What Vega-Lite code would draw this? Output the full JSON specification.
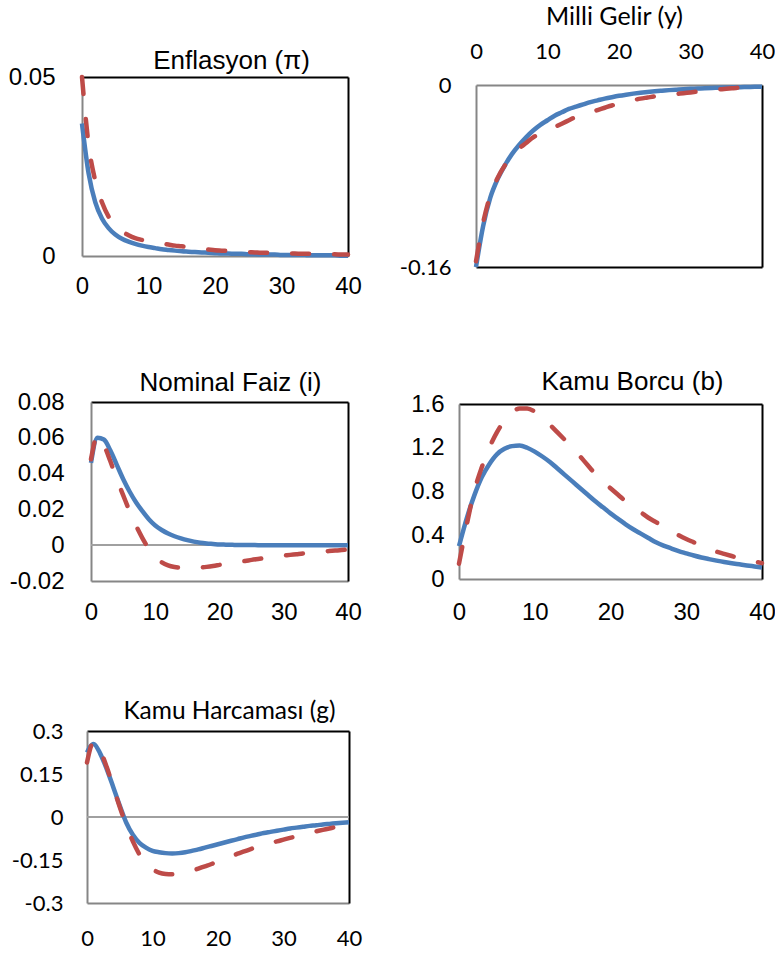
{
  "$schema": "https://vega.github.io/schema/vega-lite/v6.json",
  "padding": 0,
  "background": "white",
  "config": {
    "view": {"stroke": null},
    "axis": {"ticks": false, "tickSize": 0, "grid": false, "domainColor": "#868686", "domainWidth": 2, "labelColor": "#000000", "labelOverlap": false, "titleFontWeight": "normal", "titleColor": "#000000", "titleBaseline": "alphabetic", "titleAlign": "center"}
  },
  "datasets": {
    "irf": [
      {"p":"pi","t":0,"a":0.037,"b":0.050},{"p":"pi","t":1,"a":0.023,"b":0.031},{"p":"pi","t":2,"a":0.0150,"b":0.021},{"p":"pi","t":3,"a":0.0105,"b":0.015},{"p":"pi","t":4,"a":0.0078,"b":0.011},{"p":"pi","t":5,"a":0.0060,"b":0.0085},{"p":"pi","t":6,"a":0.0048,"b":0.0069},{"p":"pi","t":7,"a":0.0040,"b":0.0058},{"p":"pi","t":8,"a":0.0034,"b":0.0050},{"p":"pi","t":9,"a":0.0029,"b":0.0045},{"p":"pi","t":10,"a":0.0025,"b":0.0041},{"p":"pi","t":11,"a":0.0022,"b":0.0038},{"p":"pi","t":12,"a":0.0019,"b":0.0035},{"p":"pi","t":13,"a":0.0017,"b":0.0032},{"p":"pi","t":14,"a":0.0015,"b":0.0029},{"p":"pi","t":15,"a":0.0013,"b":0.0027},{"p":"pi","t":16,"a":0.0012,"b":0.0024},{"p":"pi","t":17,"a":0.0011,"b":0.0022},{"p":"pi","t":18,"a":0.0010,"b":0.0020},{"p":"pi","t":19,"a":0.0009,"b":0.0018},{"p":"pi","t":20,"a":0.0008,"b":0.0016},{"p":"pi","t":21,"a":0.0007,"b":0.0015},{"p":"pi","t":22,"a":0.0007,"b":0.0014},{"p":"pi","t":23,"a":0.0006,"b":0.0013},{"p":"pi","t":24,"a":0.0006,"b":0.0012},{"p":"pi","t":25,"a":0.0005,"b":0.0011},{"p":"pi","t":26,"a":0.0005,"b":0.0010},{"p":"pi","t":27,"a":0.0004,"b":0.0009},{"p":"pi","t":28,"a":0.0004,"b":0.0009},{"p":"pi","t":29,"a":0.0004,"b":0.0008},{"p":"pi","t":30,"a":0.0003,"b":0.0008},{"p":"pi","t":31,"a":0.0003,"b":0.0007},{"p":"pi","t":32,"a":0.0003,"b":0.0007},{"p":"pi","t":33,"a":0.0003,"b":0.0006},{"p":"pi","t":34,"a":0.0002,"b":0.0006},{"p":"pi","t":35,"a":0.0002,"b":0.0006},{"p":"pi","t":36,"a":0.0002,"b":0.0005},{"p":"pi","t":37,"a":0.0002,"b":0.0005},{"p":"pi","t":38,"a":0.0002,"b":0.0005},{"p":"pi","t":39,"a":0.0001,"b":0.0004},{"p":"pi","t":40,"a":0.0001,"b":0.0004},
      {"p":"y","t":0,"a":-0.160,"b":-0.155},{"p":"y","t":1,"a":-0.124,"b":-0.121},{"p":"y","t":2,"a":-0.099,"b":-0.097},{"p":"y","t":3,"a":-0.083,"b":-0.082},{"p":"y","t":4,"a":-0.071,"b":-0.071},{"p":"y","t":5,"a":-0.061,"b":-0.063},{"p":"y","t":6,"a":-0.053,"b":-0.056},{"p":"y","t":7,"a":-0.046,"b":-0.051},{"p":"y","t":8,"a":-0.040,"b":-0.046},{"p":"y","t":9,"a":-0.035,"b":-0.043},{"p":"y","t":10,"a":-0.031,"b":-0.040},{"p":"y","t":11,"a":-0.027,"b":-0.037},{"p":"y","t":12,"a":-0.024,"b":-0.034},{"p":"y","t":13,"a":-0.021,"b":-0.031},{"p":"y","t":14,"a":-0.019,"b":-0.028},{"p":"y","t":15,"a":-0.017,"b":-0.026},{"p":"y","t":16,"a":-0.015,"b":-0.024},{"p":"y","t":17,"a":-0.0135,"b":-0.022},{"p":"y","t":18,"a":-0.012,"b":-0.020},{"p":"y","t":19,"a":-0.0107,"b":-0.018},{"p":"y","t":20,"a":-0.0095,"b":-0.0162},{"p":"y","t":21,"a":-0.0085,"b":-0.0147},{"p":"y","t":22,"a":-0.0076,"b":-0.0133},{"p":"y","t":23,"a":-0.0068,"b":-0.012},{"p":"y","t":24,"a":-0.0061,"b":-0.011},{"p":"y","t":25,"a":-0.0055,"b":-0.010},{"p":"y","t":26,"a":-0.005,"b":-0.0093},{"p":"y","t":27,"a":-0.0045,"b":-0.0086},{"p":"y","t":28,"a":-0.0041,"b":-0.0079},{"p":"y","t":29,"a":-0.0037,"b":-0.0072},{"p":"y","t":30,"a":-0.0034,"b":-0.0065},{"p":"y","t":31,"a":-0.0031,"b":-0.0058},{"p":"y","t":32,"a":-0.0028,"b":-0.0051},{"p":"y","t":33,"a":-0.0026,"b":-0.0045},{"p":"y","t":34,"a":-0.0024,"b":-0.0039},{"p":"y","t":35,"a":-0.0022,"b":-0.0033},{"p":"y","t":36,"a":-0.002,"b":-0.0028},{"p":"y","t":37,"a":-0.0019,"b":-0.0023},{"p":"y","t":38,"a":-0.0017,"b":-0.0019},{"p":"y","t":39,"a":-0.0016,"b":-0.0016},{"p":"y","t":40,"a":-0.0015,"b":-0.0013},
      {"p":"i","t":0,"a":0.046,"b":0.048},{"p":"i","t":1,"a":0.060,"b":0.061},{"p":"i","t":2,"a":0.059,"b":0.056},{"p":"i","t":3,"a":0.053,"b":0.047},{"p":"i","t":4,"a":0.045,"b":0.037},{"p":"i","t":5,"a":0.037,"b":0.028},{"p":"i","t":6,"a":0.030,"b":0.019},{"p":"i","t":7,"a":0.024,"b":0.011},{"p":"i","t":8,"a":0.019,"b":0.004},{"p":"i","t":9,"a":0.0145,"b":-0.002},{"p":"i","t":10,"a":0.011,"b":-0.0065},{"p":"i","t":11,"a":0.0085,"b":-0.0095},{"p":"i","t":12,"a":0.0065,"b":-0.0113},{"p":"i","t":13,"a":0.005,"b":-0.0122},{"p":"i","t":14,"a":0.0038,"b":-0.0126},{"p":"i","t":15,"a":0.0028,"b":-0.0127},{"p":"i","t":16,"a":0.002,"b":-0.0127},{"p":"i","t":17,"a":0.0014,"b":-0.0125},{"p":"i","t":18,"a":0.001,"b":-0.0121},{"p":"i","t":19,"a":0.0007,"b":-0.0116},{"p":"i","t":20,"a":0.0004,"b":-0.011},{"p":"i","t":21,"a":0.0003,"b":-0.0104},{"p":"i","t":22,"a":0.0002,"b":-0.0099},{"p":"i","t":23,"a":0.0001,"b":-0.0093},{"p":"i","t":24,"a":0.0001,"b":-0.0088},{"p":"i","t":25,"a":0.0001,"b":-0.0082},{"p":"i","t":26,"a":0,"b":-0.0077},{"p":"i","t":27,"a":0,"b":-0.0072},{"p":"i","t":28,"a":0,"b":-0.0067},{"p":"i","t":29,"a":0,"b":-0.0062},{"p":"i","t":30,"a":0,"b":-0.0058},{"p":"i","t":31,"a":0,"b":-0.0054},{"p":"i","t":32,"a":0,"b":-0.005},{"p":"i","t":33,"a":0,"b":-0.0046},{"p":"i","t":34,"a":0,"b":-0.0043},{"p":"i","t":35,"a":0,"b":-0.0039},{"p":"i","t":36,"a":0,"b":-0.0036},{"p":"i","t":37,"a":0,"b":-0.0033},{"p":"i","t":38,"a":0,"b":-0.003},{"p":"i","t":39,"a":0,"b":-0.0027},{"p":"i","t":40,"a":0,"b":-0.0025},
      {"p":"b","t":0,"a":0.30,"b":0.14},{"p":"b","t":1,"a":0.55,"b":0.49},{"p":"b","t":2,"a":0.76,"b":0.80},{"p":"b","t":3,"a":0.93,"b":1.02},{"p":"b","t":4,"a":1.05,"b":1.20},{"p":"b","t":5,"a":1.14,"b":1.34},{"p":"b","t":6,"a":1.19,"b":1.45},{"p":"b","t":7,"a":1.215,"b":1.52},{"p":"b","t":8,"a":1.22,"b":1.56},{"p":"b","t":9,"a":1.20,"b":1.56},{"p":"b","t":10,"a":1.165,"b":1.53},{"p":"b","t":11,"a":1.12,"b":1.47},{"p":"b","t":12,"a":1.07,"b":1.41},{"p":"b","t":13,"a":1.01,"b":1.34},{"p":"b","t":14,"a":0.95,"b":1.27},{"p":"b","t":15,"a":0.89,"b":1.20},{"p":"b","t":16,"a":0.83,"b":1.12},{"p":"b","t":17,"a":0.77,"b":1.04},{"p":"b","t":18,"a":0.71,"b":0.96},{"p":"b","t":19,"a":0.655,"b":0.89},{"p":"b","t":20,"a":0.60,"b":0.83},{"p":"b","t":21,"a":0.55,"b":0.77},{"p":"b","t":22,"a":0.50,"b":0.71},{"p":"b","t":23,"a":0.455,"b":0.66},{"p":"b","t":24,"a":0.415,"b":0.61},{"p":"b","t":25,"a":0.375,"b":0.56},{"p":"b","t":26,"a":0.335,"b":0.52},{"p":"b","t":27,"a":0.305,"b":0.48},{"p":"b","t":28,"a":0.28,"b":0.44},{"p":"b","t":29,"a":0.255,"b":0.40},{"p":"b","t":30,"a":0.235,"b":0.365},{"p":"b","t":31,"a":0.215,"b":0.335},{"p":"b","t":32,"a":0.197,"b":0.305},{"p":"b","t":33,"a":0.182,"b":0.275},{"p":"b","t":34,"a":0.168,"b":0.25},{"p":"b","t":35,"a":0.155,"b":0.23},{"p":"b","t":36,"a":0.144,"b":0.21},{"p":"b","t":37,"a":0.134,"b":0.19},{"p":"b","t":38,"a":0.124,"b":0.175},{"p":"b","t":39,"a":0.115,"b":0.16},{"p":"b","t":40,"a":0.106,"b":0.145},
      {"p":"g","t":0,"a":0.225,"b":0.19},{"p":"g","t":1,"a":0.255,"b":0.262},{"p":"g","t":2,"a":0.222,"b":0.232},{"p":"g","t":3,"a":0.168,"b":0.175},{"p":"g","t":4,"a":0.105,"b":0.105},{"p":"g","t":5,"a":0.040,"b":0.035},{"p":"g","t":6,"a":-0.020,"b":-0.03},{"p":"g","t":7,"a":-0.062,"b":-0.085},{"p":"g","t":8,"a":-0.090,"b":-0.13},{"p":"g","t":9,"a":-0.107,"b":-0.162},{"p":"g","t":10,"a":-0.118,"b":-0.182},{"p":"g","t":11,"a":-0.123,"b":-0.194},{"p":"g","t":12,"a":-0.126,"b":-0.199},{"p":"g","t":13,"a":-0.127,"b":-0.200},{"p":"g","t":14,"a":-0.126,"b":-0.198},{"p":"g","t":15,"a":-0.123,"b":-0.194},{"p":"g","t":16,"a":-0.118,"b":-0.188},{"p":"g","t":17,"a":-0.113,"b":-0.180},{"p":"g","t":18,"a":-0.107,"b":-0.172},{"p":"g","t":19,"a":-0.101,"b":-0.164},{"p":"g","t":20,"a":-0.095,"b":-0.155},{"p":"g","t":21,"a":-0.089,"b":-0.146},{"p":"g","t":22,"a":-0.083,"b":-0.137},{"p":"g","t":23,"a":-0.077,"b":-0.128},{"p":"g","t":24,"a":-0.071,"b":-0.120},{"p":"g","t":25,"a":-0.066,"b":-0.112},{"p":"g","t":26,"a":-0.061,"b":-0.104},{"p":"g","t":27,"a":-0.056,"b":-0.097},{"p":"g","t":28,"a":-0.052,"b":-0.090},{"p":"g","t":29,"a":-0.048,"b":-0.085},{"p":"g","t":30,"a":-0.044,"b":-0.079},{"p":"g","t":31,"a":-0.040,"b":-0.073},{"p":"g","t":32,"a":-0.037,"b":-0.067},{"p":"g","t":33,"a":-0.034,"b":-0.061},{"p":"g","t":34,"a":-0.031,"b":-0.055},{"p":"g","t":35,"a":-0.029,"b":-0.050},{"p":"g","t":36,"a":-0.026,"b":-0.045},{"p":"g","t":37,"a":-0.024,"b":-0.040},{"p":"g","t":38,"a":-0.022,"b":-0.035},{"p":"g","t":39,"a":-0.020,"b":-0.031},{"p":"g","t":40,"a":-0.018,"b":-0.027}
    ]
  },
  "bounds": "flush",
  "spacing": 0,
  "columns": 2,
  "align": "each",
  "concat": [
    {
      "width": 400, "height": 320,
      "data": {"name": "irf"},
      "transform": [{"filter": "datum.p == 'pi'"}],
      "resolve": {"axis": {"x": "independent", "y": "independent"}},
      "layer": [
        {"mark": {"type": "line", "color": "#4a7ebb", "strokeWidth": 4.5, "interpolate": "monotone"},
         "encoding": {
           "x": {"field": "t", "type": "quantitative", "title": null, "scale": {"domain": [0, 40], "range": [82, 348], "nice": false}, "axis": {"orient": "bottom", "offset": -64, "values": [0, 10, 20, 30, 40], "labelFont": "Liberation Sans", "labelFontSize": 24, "labelPadding": 18, "labelFlush": false, "labelOverlap": false}},
           "y": {"field": "a", "type": "quantitative", "title": null, "scale": {"domain": [0, 0.05], "range": [256, 77], "nice": false, "zero": false}, "axis": {"orient": "left", "offset": -82, "values": [0, 0.05], "labelExpr": "'' + datum.value", "labelFont": "Liberation Sans", "labelFontSize": 24, "labelPadding": 27, "labelOverlap": false}}}},
        {"mark": {"type": "line", "color": "#be4b48", "strokeWidth": 4.5, "interpolate": "monotone", "strokeDash": [17, 25], "strokeCap": "round"},
         "encoding": {
           "x": {"field": "t", "type": "quantitative", "axis": {"orient": "top", "offset": -77, "labels": false, "domainColor": "#000000", "title": "Enflasyon (π)", "titleFont": "Liberation Sans", "titleFontSize": 26, "titlePadding": 9, "titleX": 231}},
           "y": {"field": "b", "type": "quantitative", "title": null, "axis": {"orient": "right", "offset": -52, "labels": false, "domainColor": "#000000"}}}}
      ]
    },
    {
      "width": 375, "height": 320,
      "data": {"name": "irf"},
      "transform": [{"filter": "datum.p == 'y'"}],
      "resolve": {"axis": {"x": "independent", "y": "independent"}},
      "layer": [
        {"mark": {"type": "line", "color": "#4a7ebb", "strokeWidth": 4.5, "interpolate": "monotone"},
         "encoding": {
           "x": {"field": "t", "type": "quantitative", "scale": {"domain": [0, 40], "range": [76, 362], "nice": false}, "axis": {"orient": "top", "offset": -85, "values": [0, 10, 20, 30, 40], "labelFont": "Lato", "labelFontSize": 22, "labelPadding": 22, "labelFlush": false, "labelOverlap": false, "title": "Milli Gelir (y)", "titleFont": "Lato", "titleFontSize": 25, "titlePadding": 16, "titleX": 214}},
           "y": {"field": "a", "type": "quantitative", "title": null, "scale": {"domain": [-0.16, 0], "range": [267, 85], "nice": false, "zero": false}, "axis": {"orient": "left", "offset": -76, "values": [-0.16, 0], "labelExpr": "'' + datum.value", "labelFont": "Lato", "labelFontSize": 22, "labelPadding": 25, "labelOverlap": false}}}},
        {"mark": {"type": "line", "color": "#be4b48", "strokeWidth": 4.5, "interpolate": "monotone", "strokeDash": [17, 25], "strokeCap": "round"},
         "encoding": {
           "x": {"field": "t", "type": "quantitative", "title": null, "axis": {"orient": "bottom", "offset": -53, "labels": false, "domainColor": "#000000"}},
           "y": {"field": "b", "type": "quantitative", "title": null, "axis": {"orient": "right", "offset": -13, "labels": false, "domainColor": "#000000"}}}}
      ]
    },
    {
      "width": 400, "height": 330,
      "data": {"name": "irf"},
      "transform": [{"filter": "datum.p == 'i'"}],
      "resolve": {"axis": {"x": "independent", "y": "independent"}},
      "layer": [
        {"mark": {"type": "rule", "color": "#a0a0a0", "strokeWidth": 1.5},
         "encoding": {"x": {"datum": 0, "type": "quantitative", "axis": null, "scale": {"domain": [0, 40], "range": [91, 348], "nice": false}}, "x2": {"datum": 40}, "y": {"datum": 0, "type": "quantitative", "axis": null, "scale": {"domain": [-0.02, 0.08], "range": [261, 82], "nice": false, "zero": false}}}},
        {"mark": {"type": "line", "color": "#4a7ebb", "strokeWidth": 4.5, "interpolate": "monotone"},
         "encoding": {
           "x": {"field": "t", "type": "quantitative", "title": null, "scale": {"domain": [0, 40], "range": [91, 348], "nice": false}, "axis": {"orient": "bottom", "offset": -69, "values": [0, 10, 20, 30, 40], "labelFont": "Liberation Sans", "labelFontSize": 24, "labelPadding": 19, "labelFlush": false, "labelOverlap": false}},
           "y": {"field": "a", "type": "quantitative", "title": null, "scale": {"domain": [-0.02, 0.08], "range": [261, 82], "nice": false, "zero": false}, "axis": {"orient": "left", "offset": -91, "values": [-0.02, 0, 0.02, 0.04, 0.06, 0.08], "labelExpr": "'' + datum.value", "labelFont": "Liberation Sans", "labelFontSize": 24, "labelPadding": 27, "labelOverlap": false, "labelSeparation": -20}}}},
        {"mark": {"type": "line", "color": "#be4b48", "strokeWidth": 4.5, "interpolate": "monotone", "strokeDash": [17, 25], "strokeCap": "round"},
         "encoding": {
           "x": {"field": "t", "type": "quantitative", "axis": {"orient": "top", "offset": -82, "labels": false, "domainColor": "#000000", "title": "Nominal Faiz (i)", "titleFont": "Liberation Sans", "titleFontSize": 26, "titlePadding": 12, "titleX": 230}},
           "y": {"field": "b", "type": "quantitative", "title": null, "axis": {"orient": "right", "offset": -52, "labels": false, "domainColor": "#000000"}}}}
      ]
    },
    {
      "width": 375, "height": 330,
      "data": {"name": "irf"},
      "transform": [{"filter": "datum.p == 'b'"}],
      "resolve": {"axis": {"x": "independent", "y": "independent"}},
      "layer": [
        {"mark": {"type": "line", "color": "#4a7ebb", "strokeWidth": 4.5, "interpolate": "monotone"},
         "encoding": {
           "x": {"field": "t", "type": "quantitative", "title": null, "scale": {"domain": [0, 40], "range": [59, 362], "nice": false}, "axis": {"orient": "bottom", "offset": -71, "values": [0, 10, 20, 30, 40], "labelFont": "Liberation Sans", "labelFontSize": 24, "labelPadding": 21, "labelFlush": false, "labelOverlap": false}},
           "y": {"field": "a", "type": "quantitative", "title": null, "scale": {"domain": [0, 1.6], "range": [259, 84], "nice": false, "zero": false}, "axis": {"orient": "left", "offset": -59, "values": [0, 0.4, 0.8, 1.2, 1.6], "labelExpr": "'' + datum.value", "labelFont": "Liberation Sans", "labelFontSize": 24, "labelPadding": 15, "labelOverlap": false}}}},
        {"mark": {"type": "line", "color": "#be4b48", "strokeWidth": 4.5, "interpolate": "monotone", "strokeDash": [17, 25], "strokeCap": "round"},
         "encoding": {
           "x": {"field": "t", "type": "quantitative", "axis": {"orient": "top", "offset": -84, "labels": false, "domainColor": "#000000", "title": "Kamu Borcu (b)", "titleFont": "Liberation Sans", "titleFontSize": 26, "titlePadding": 15, "titleX": 232}},
           "y": {"field": "b", "type": "quantitative", "title": null, "axis": {"orient": "right", "offset": -13, "labels": false, "domainColor": "#000000"}}}}
      ]
    },
    {
      "width": 400, "height": 303,
      "data": {"name": "irf"},
      "transform": [{"filter": "datum.p == 'g'"}],
      "resolve": {"axis": {"x": "independent", "y": "independent"}},
      "layer": [
        {"mark": {"type": "rule", "color": "#a0a0a0", "strokeWidth": 1.5},
         "encoding": {"x": {"datum": 0, "type": "quantitative", "axis": null, "scale": {"domain": [0, 40], "range": [87, 349], "nice": false}}, "x2": {"datum": 40}, "y": {"datum": 0, "type": "quantitative", "axis": null, "scale": {"domain": [-0.3, 0.3], "range": [253, 81], "nice": false, "zero": false}}}},
        {"mark": {"type": "line", "color": "#4a7ebb", "strokeWidth": 4.5, "interpolate": "monotone"},
         "encoding": {
           "x": {"field": "t", "type": "quantitative", "title": null, "scale": {"domain": [0, 40], "range": [87, 349], "nice": false}, "axis": {"orient": "bottom", "offset": -50, "values": [0, 10, 20, 30, 40], "labelFont": "Lato", "labelFontSize": 22, "labelPadding": 25, "labelFlush": false, "labelOverlap": false}},
           "y": {"field": "a", "type": "quantitative", "title": null, "scale": {"domain": [-0.3, 0.3], "range": [253, 81], "nice": false, "zero": false}, "axis": {"orient": "left", "offset": -87, "values": [-0.3, -0.15, 0, 0.15, 0.3], "labelExpr": "'' + datum.value", "labelFont": "Lato", "labelFontSize": 22, "labelPadding": 24, "labelOverlap": false, "labelSeparation": -20}}}},
        {"mark": {"type": "line", "color": "#be4b48", "strokeWidth": 4.5, "interpolate": "monotone", "strokeDash": [17, 25], "strokeCap": "round"},
         "encoding": {
           "x": {"field": "t", "type": "quantitative", "axis": {"orient": "top", "offset": -81, "labels": false, "domainColor": "#000000", "title": "Kamu Harcaması (g)", "titleFont": "Lato", "titleFontSize": 24.5, "titlePadding": 13, "titleX": 229}},
           "y": {"field": "b", "type": "quantitative", "title": null, "axis": {"orient": "right", "offset": -51, "labels": false, "domainColor": "#000000"}}}}
      ]
    },
    {"width": 375, "height": 303, "data": {"values": []}, "mark": "point"}
  ]
}
